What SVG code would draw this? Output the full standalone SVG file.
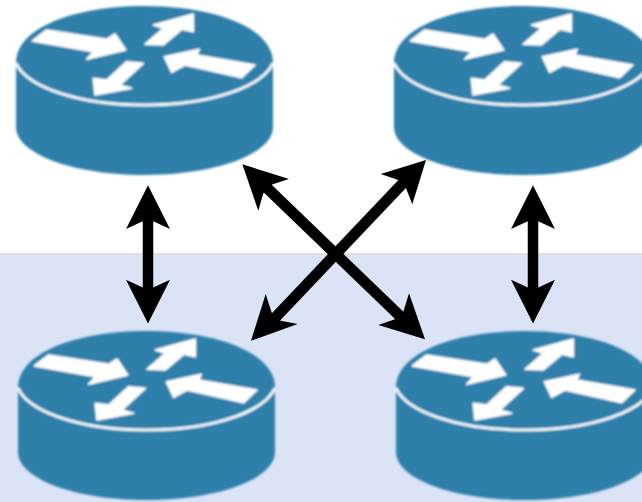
<svg xmlns="http://www.w3.org/2000/svg" width="642" height="502" viewBox="0 0 642 502">
<style>
.body{fill:#2f80ab}
.rim{fill:none;stroke:#f2f8fb;stroke-width:3}
.flow{fill:#fff;stroke:#fff;stroke-width:1.6;stroke-linejoin:round}
.line{stroke:#000;stroke-width:10.5;fill:none}
.diag{stroke:#000;stroke-width:11;fill:none}
.head{fill:#000}
</style>
<defs>
<filter id="soft" x="-5%" y="-5%" width="110%" height="110%"><feGaussianBlur stdDeviation="0.8"/></filter>
<g id="router" filter="url(#soft)">
<path class="body" d="M0 56.500V121C0 148 57.500 169 128.500 169S257 148 257 121V56.500C257 22 199 0 128.500 0S0 22 0 56.500Z"/>
<path class="rim" d="M0 57C10 80 60 99 128.500 99S247 80 257 57"/>
<polygon class="flow" points="16.300,35 30.700,24 90.700,33.300 99,28 109.700,44 70.700,53.300 77.300,45.700"/>
<polygon class="flow" points="129,38.300 147.300,22.300 137.300,19 177.300,8 177.300,25.700 165.700,23.300 147.300,39"/>
<polygon class="flow" points="148.300,50.700 183.300,43.300 180.700,49 239,59 225.700,71.700 169,59 155.700,66.300"/>
<polygon class="flow" points="79,89 77.300,72.300 90.700,74 110.700,55.700 127.300,57.300 104,79 115.700,82.300"/>
</g>
</defs>
<rect x="0" y="254" width="642" height="248" fill="#dbe3f7"/>
<rect x="0" y="253" width="642" height="2" fill="#e0e0e0"/>
<g id="router-top-left"><use href="#router" x="16" y="6"/></g>
<g id="router-top-right"><use href="#router" x="394" y="6"/></g>
<g id="router-bottom-left"><use href="#router" x="18" y="331"/></g>
<g id="router-bottom-right"><use href="#router" x="396" y="331"/></g>
<g id="connectors">
<path class="line" d="M148 215V295"/>
<polygon class="head" points="148,185.200 170,229 153.200,221.300 142.800,221.300 126,229"/>
<polygon class="head" points="148,323.500 170,279.700 153.200,287.500 142.800,287.500 126,279.700"/>
<path class="line" d="M533 215V295"/>
<polygon class="head" points="533,185.200 555,229 538.200,221.300 527.800,221.300 511,229"/>
<polygon class="head" points="533,323.500 555,279.700 538.200,287.500 527.800,287.500 511,279.700"/>
<path class="diag" d="M265 186L402 318"/>
<polygon class="head" points="242.300,164.300 289,179 272.700,184.300 263.300,193.300 258.300,210.700"/>
<polygon class="head" points="425,339.300 378.300,325 395,319.300 403.300,311.700 409,293.300"/>
<path class="diag" d="M405 181L273 320"/>
<polygon class="head" points="426,160 380.700,174 398.300,180 406,188.300 412.300,204.300"/>
<polygon class="head" points="251,340.700 265.700,294 271.700,312.700 280.700,320.700 297.700,324"/>
</g>
</svg>
